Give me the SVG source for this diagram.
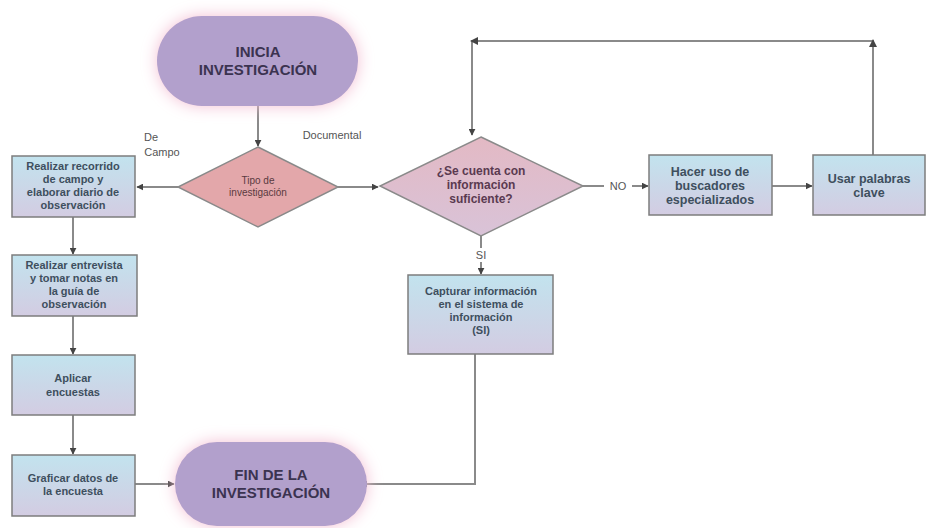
<svg xmlns="http://www.w3.org/2000/svg" width="927" height="528" viewBox="0 0 927 528">
<style>
text{font-family:"Liberation Sans",Arial,sans-serif;text-anchor:middle;}
.bx{fill:url(#gb);stroke:#7d7d7d;stroke-width:1.5;}
.bt{font-size:11px;fill:#3e4f5e;font-weight:bold;}
.bt2{font-size:12.5px;fill:#3e4f5e;font-weight:bold;}
.tm{fill:#b2a0cc;filter:url(#glow);}
.tt{font-size:15px;font-weight:bold;fill:#3b3350;}
.cn{fill:none;stroke:#8a8a8a;stroke-width:2;}
.lb{font-size:11px;fill:#555;}
.dt{font-size:10px;fill:#5a3a40;}
.dt2{font-size:12px;font-weight:bold;fill:#5a3a50;}
</style>
<defs>
<linearGradient id="gb" x1="0" y1="0" x2="0" y2="1">
<stop offset="0" stop-color="#c2e3ee"/>
<stop offset="1" stop-color="#d3cce2"/>
</linearGradient>
<linearGradient id="gd2" x1="0" y1="0" x2="0" y2="1">
<stop offset="0" stop-color="#e3b9c4"/>
<stop offset="1" stop-color="#d9c3d8"/>
</linearGradient>
<filter id="glow" x="-30%" y="-40%" width="160%" height="180%">
<feGaussianBlur in="SourceAlpha" stdDeviation="8" result="b"/>
<feFlood flood-color="#f4bfd3"/>
<feComposite in2="b" operator="in" result="g"/>
<feMerge><feMergeNode in="g"/><feMergeNode in="SourceGraphic"/></feMerge>
</filter>
<marker id="ar" viewBox="0 0 10 10" refX="9" refY="5" markerWidth="3.5" markerHeight="3.5" orient="auto">
<path d="M0,0 L10,5 L0,10 z" fill="#444"/>
</marker>
</defs>

<g id="connectors">
<path class="cn" d="M258,106 V146" marker-end="url(#ar)"/>
<path class="cn" d="M178,187 H137" marker-end="url(#ar)"/>
<path class="cn" d="M337,187 H378" marker-end="url(#ar)"/>
<path class="cn" d="M73,217 V254" marker-end="url(#ar)"/>
<path class="cn" d="M73,316 V354" marker-end="url(#ar)"/>
<path class="cn" d="M73,415 V454" marker-end="url(#ar)"/>
<path class="cn" d="M135,484 H174" marker-end="url(#ar)"/>
<path class="cn" d="M583,186 H604"/>
<path class="cn" d="M632,186 H648" marker-end="url(#ar)"/>
<path class="cn" d="M772,186 H812" marker-end="url(#ar)"/>
<path class="cn" d="M873,155 V41 H472 V135" marker-end="url(#ar)"/>
<path class="cn" d="M481,236 V248"/>
<path class="cn" d="M481,262 V274" marker-end="url(#ar)"/>
<path class="cn" d="M475,354 V484 H361" marker-end="url(#ar)"/>
<path d="M869,47 L873,39 L877,47 z" fill="#444"/>
<path d="M478,37 L470,41 L478,45 z" fill="#444"/>
<text class="lb" x="151" y="141">De</text>
<text class="lb" x="162" y="156">Campo</text>
<text class="lb" x="332" y="139">Documental</text>
<text class="lb" x="618" y="190">NO</text>
<text class="lb" x="481" y="259">SI</text>
</g>

<g id="inicio">
<rect class="tm" x="157" y="16" width="201" height="90" rx="45"/>
<text class="tt" x="258" y="57">INICIA</text>
<text class="tt" x="258" y="75">INVESTIGACIÓN</text>
</g>

<g id="tipo">
<polygon points="258,147 338,187 258,227 178,187" fill="#e3a7aa" stroke="#8a8a8a" stroke-width="1.5"/>
<text class="dt" x="258" y="184">Tipo de</text>
<text class="dt" x="258" y="196">investigación</text>
</g>

<g id="suficiente">
<polygon points="481,137 583,186 481,236 380,186" fill="url(#gd2)" stroke="#8a8a8a" stroke-width="1.5"/>
<text class="dt2" x="481" y="175">¿Se cuenta con</text>
<text class="dt2" x="481" y="189">información</text>
<text class="dt2" x="481" y="203">suficiente?</text>
</g>

<g id="recorrido">
<rect class="bx" x="12" y="156" width="123" height="61"/>
<text class="bt" x="73" y="170">Realizar recorrido</text>
<text class="bt" x="73" y="183">de campo y</text>
<text class="bt" x="73" y="196">elaborar diario de</text>
<text class="bt" x="73" y="209">observación</text>
</g>

<g id="entrevista">
<rect class="bx" x="12" y="255" width="125" height="61"/>
<text class="bt" x="74" y="269">Realizar entrevista</text>
<text class="bt" x="74" y="282">y tomar notas en</text>
<text class="bt" x="74" y="295">la guía de</text>
<text class="bt" x="74" y="308">observación</text>
</g>

<g id="encuestas">
<rect class="bx" x="12" y="355" width="123" height="60"/>
<text class="bt" x="73" y="382">Aplicar</text>
<text class="bt" x="73" y="396">encuestas</text>
</g>

<g id="graficar">
<rect class="bx" x="12" y="455" width="123" height="61"/>
<text class="bt" x="73" y="482">Graficar datos de</text>
<text class="bt" x="73" y="495">la encuesta</text>
</g>

<g id="fin">
<rect class="tm" x="175" y="442" width="192" height="84" rx="42"/>
<text class="tt" x="271" y="480">FIN DE LA</text>
<text class="tt" x="271" y="498">INVESTIGACIÓN</text>
</g>

<g id="capturar">
<rect class="bx" x="408" y="275" width="145" height="79"/>
<text class="bt" x="481" y="295">Capturar información</text>
<text class="bt" x="481" y="308">en el sistema de</text>
<text class="bt" x="481" y="321">información</text>
<text class="bt" x="481" y="334">(SI)</text>
</g>

<g id="buscadores">
<rect class="bx" x="649" y="155" width="123" height="60"/>
<text class="bt2" x="710" y="176">Hacer uso de</text>
<text class="bt2" x="710" y="190">buscadores</text>
<text class="bt2" x="710" y="204">especializados</text>
</g>

<g id="palabras">
<rect class="bx" x="813" y="155" width="112" height="60"/>
<text class="bt2" x="869" y="183">Usar palabras</text>
<text class="bt2" x="869" y="197">clave</text>
</g>
</svg>
